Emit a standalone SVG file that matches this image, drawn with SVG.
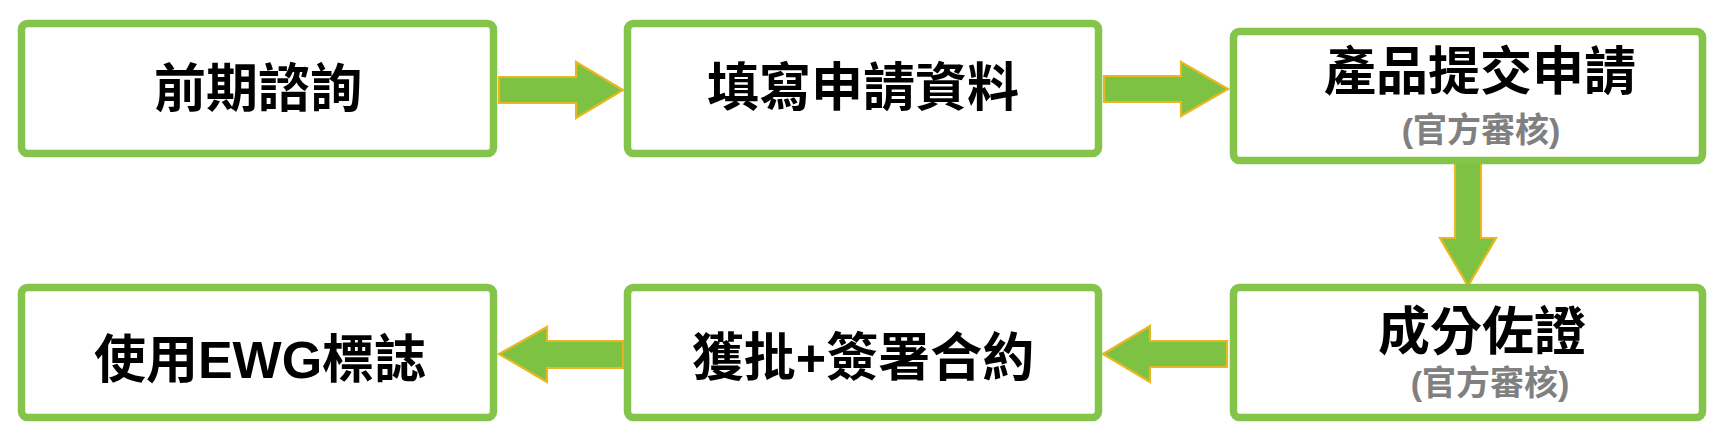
<svg xmlns="http://www.w3.org/2000/svg" width="1727" height="442" viewBox="0 0 1727 442">
<style>
.box{fill:#FFFFFF;stroke:#84C44A;stroke-width:7.5}
.arrow{fill:#7DC242;stroke:#E8B722;stroke-width:2.2;stroke-linejoin:miter}
.t{font-family:"Liberation Sans","Noto Sans CJK TC",sans-serif;font-weight:bold;font-size:52px;fill:#000000;text-anchor:middle}
.s{font-family:"Liberation Sans","Noto Sans CJK TC",sans-serif;font-weight:bold;font-size:34px;fill:#808080;text-anchor:middle}
</style>
<rect width="1727" height="442" fill="#FFFFFF"/>
<g id="connectors">
<polygon class="arrow" points="499,77 576,77 576,62 623,90 576,118 576,103 499,103"/>
<polygon class="arrow" points="1104,76 1181,76 1181,62 1228,89 1181,116 1181,102 1104,102"/>
<polygon class="arrow" points="1455,163 1481,163 1481,238 1496,238 1468,286 1440,238 1455,238"/>
<polygon class="arrow" points="1227,341 1150,341 1150,326 1103,354 1150,382 1150,367 1227,367"/>
<polygon class="arrow" points="623,341 547,341 547,327 499,354 547,382 547,368 623,368"/>
</g>
<g id="node1">
<rect class="box" x="21.5" y="23.5" width="472" height="130" rx="6"/>
<text class="t" x="258" y="107">前期諮詢</text>
</g>
<g id="node2">
<rect class="box" x="627.5" y="23.5" width="471" height="130" rx="6"/>
<text class="t" x="863" y="106">填寫申請資料</text>
</g>
<g id="node3">
<rect class="box" x="1233.5" y="31.5" width="469" height="129" rx="6"/>
<text class="t" x="1480" y="90">產品提交申請</text>
<text class="s" x="1481" y="142">(官方審核)</text>
</g>
<g id="node4">
<rect class="box" x="1233.5" y="287.5" width="469" height="130" rx="6"/>
<text class="t" x="1482" y="350">成分佐證</text>
<text class="s" x="1490" y="395">(官方審核)</text>
</g>
<g id="node5">
<rect class="box" x="627.5" y="287.5" width="471" height="130" rx="6"/>
<text class="t" x="863" y="376">獲批+簽署合約</text>
</g>
<g id="node6">
<rect class="box" x="21.5" y="287.5" width="472" height="130" rx="6"/>
<text class="t" x="260" y="378">使用EWG標誌</text>
</g>
</svg>
